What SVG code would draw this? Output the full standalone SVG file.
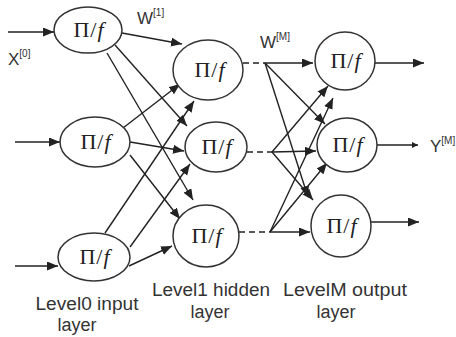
<svg xmlns="http://www.w3.org/2000/svg" width="456" height="337" viewBox="0 0 456 337">
<style>
.node{fill:#fff;stroke:#333;stroke-width:1.5}
.lbl{font-family:"Liberation Serif","DejaVu Serif",serif;font-size:22px;fill:#222;text-anchor:middle;letter-spacing:1px}
.e{stroke:#222;stroke-width:1.4;fill:none;marker-end:url(#ah)}
.d{stroke:#222;stroke-width:1.5;fill:none;stroke-dasharray:6,4}
.sans{font-family:"Liberation Sans","DejaVu Sans",sans-serif;fill:#333}
.cap{font-family:"Liberation Sans","DejaVu Sans",sans-serif;font-size:18px;fill:#333;text-anchor:middle}
</style>
<defs>
<marker id="ah" markerUnits="userSpaceOnUse" markerWidth="12" markerHeight="10" refX="11" refY="4.5" orient="auto">
<path d="M0,0 L11,4.5 L0,9 z" fill="#222"/>
</marker>
<marker id="ahs" markerUnits="userSpaceOnUse" markerWidth="7" markerHeight="7" refX="6" refY="3" orient="auto">
<path d="M0,0 L6,3 L0,6 z" fill="#222"/>
</marker>
</defs>
<rect width="456" height="337" fill="#fff"/>
<g id="connectors">
<line class="e" x1="8" y1="32" x2="54" y2="32"/>
<line class="e" x1="15" y1="142" x2="60" y2="142"/>
<line class="e" x1="15" y1="266" x2="58" y2="266"/>
<line class="e" x1="122" y1="33" x2="182" y2="44"/>
<line class="e" x1="115" y1="45" x2="187" y2="126"/>
<line class="e" x1="107" y1="53" x2="193" y2="200"/>
<line class="e" x1="123" y1="128" x2="180" y2="84"/>
<line class="e" x1="130" y1="142" x2="184" y2="151"/>
<line class="e" x1="130" y1="155" x2="180" y2="219"/>
<line class="e" x1="105" y1="233" x2="194" y2="101"/>
<line class="e" x1="130" y1="247" x2="190" y2="164"/>
<line class="e" x1="129" y1="266" x2="172" y2="246"/>
<line class="d" x1="243" y1="63" x2="265" y2="63"/>
<line class="d" x1="247" y1="152" x2="272" y2="152"/>
<line class="d" x1="239" y1="232" x2="270" y2="232"/>
<line class="e" x1="265" y1="63" x2="313" y2="63"/>
<line class="e" x1="265" y1="63" x2="325" y2="124"/>
<line class="e" x1="265" y1="63" x2="308" y2="197"/>
<line class="e" x1="272" y1="152" x2="328" y2="86"/>
<line class="e" x1="272" y1="152" x2="316" y2="151"/>
<line class="e" x1="272" y1="152" x2="313" y2="200"/>
<line class="e" x1="270" y1="232" x2="333" y2="98"/>
<line class="e" x1="270" y1="232" x2="327" y2="163"/>
<line class="e" x1="270" y1="232" x2="310" y2="232"/>
<line class="e" x1="375" y1="63" x2="424" y2="63"/>
<line x1="377" y1="145" x2="418" y2="145" stroke="#222" stroke-width="1.4" marker-end="url(#ahs)"/>
<line class="e" x1="371" y1="222" x2="419" y2="222"/>
</g>
<g id="I1"><ellipse class="node" cx="88" cy="30" rx="34" ry="23"/><text class="lbl" x="89" y="37">Π/<tspan font-style="italic">f</tspan></text></g>
<g id="I2"><ellipse class="node" cx="95" cy="142" rx="35" ry="25"/><text class="lbl" x="96" y="149">Π/<tspan font-style="italic">f</tspan></text></g>
<g id="I3"><ellipse class="node" cx="94" cy="257" rx="36" ry="24"/><text class="lbl" x="95" y="264">Π/<tspan font-style="italic">f</tspan></text></g>
<g id="H1"><ellipse class="node" cx="208" cy="70" rx="35" ry="30"/><text class="lbl" x="210" y="77">Π/<tspan font-style="italic">f</tspan></text></g>
<g id="H2"><ellipse class="node" cx="216" cy="147" rx="31" ry="25"/><text class="lbl" x="217" y="154">Π/<tspan font-style="italic">f</tspan></text></g>
<g id="H3"><ellipse class="node" cx="206" cy="236" rx="33" ry="31"/><text class="lbl" x="207" y="243">Π/<tspan font-style="italic">f</tspan></text></g>
<g id="O1"><ellipse class="node" cx="345" cy="61" rx="30" ry="29"/><text class="lbl" x="346" y="68">Π/<tspan font-style="italic">f</tspan></text></g>
<g id="O2"><ellipse class="node" cx="347" cy="145" rx="30" ry="27"/><text class="lbl" x="348" y="152">Π/<tspan font-style="italic">f</tspan></text></g>
<g id="O3"><ellipse class="node" cx="341" cy="226" rx="30" ry="31"/><text class="lbl" x="342" y="233">Π/<tspan font-style="italic">f</tspan></text></g>
<g id="labels">
<text class="sans" x="8" y="65" font-size="17">X<tspan font-size="10" dy="-8">[0]</tspan></text>
<text class="sans" x="137" y="24" font-size="17">W<tspan font-size="10" dy="-8">[1]</tspan></text>
<text class="sans" x="260" y="48" font-size="17">W<tspan font-size="10" dy="-8">[M]</tspan></text>
<text class="sans" x="430" y="152" font-size="17">Y<tspan font-size="10" dy="-8">[M]</tspan></text>
<text class="cap" x="87" y="310" textLength="103" lengthAdjust="spacingAndGlyphs">Level0 input</text>
<text class="cap" x="77" y="331" font-size="17">layer</text>
<text class="cap" x="211" y="296" textLength="118" lengthAdjust="spacingAndGlyphs">Level1 hidden</text>
<text class="cap" x="210" y="318">layer</text>
<text class="cap" x="345" y="296" textLength="124" lengthAdjust="spacingAndGlyphs">LevelM output</text>
<text class="cap" x="336" y="318">layer</text>
</g>
</svg>
